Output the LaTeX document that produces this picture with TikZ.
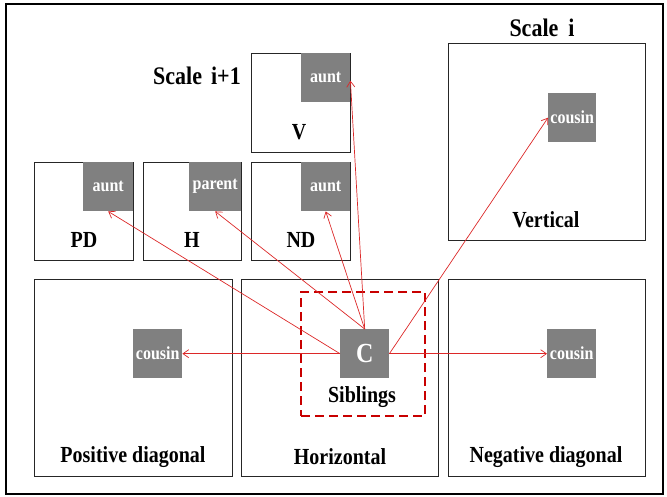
\documentclass[tikz,border=0pt]{standalone}
\usepackage{fontspec}
\usepackage{graphicx}
\setmainfont{Liberation Serif}
\usetikzlibrary{arrows.meta}
\definecolor{sq}{RGB}{128,128,128}
\definecolor{arr}{RGB}{220,40,40}
\definecolor{dash}{RGB}{200,0,0}
\newcommand\vstretch[1]{\scalebox{1}[1.15]{#1}}
\tikzset{
  box/.style={draw=black!85, line width=1.1pt, anchor=north west, inner sep=0pt},
  sqr/.style={fill=sq, draw=none, anchor=north west, inner sep=0pt, text=white,
     font=\fontsize{16}{16}\selectfont\bfseries},
  lbl/.style={font=\fontsize{20}{20}\selectfont\bfseries, inner sep=0pt},
  scl/.style={font=\fontsize{22}{22}\selectfont\bfseries, inner sep=0pt},
  link/.style={draw=arr, line width=0.7pt, -{Straight Barb[angle=70:7pt]}},
  sibbox/.style={draw=dash, line width=2.2pt, dash pattern=on 9pt off 5pt, anchor=north west, inner sep=0pt}
}
\begin{document}
\begin{tikzpicture}[x=1pt,y=-1pt]
\useasboundingbox (0,0) rectangle (667,496);
\node[draw=black, line width=1.5pt, anchor=north west, minimum width=657, minimum height=490, inner sep=0pt] (frame) at (5,3) {};
% big boxes
\node[box, minimum width=198, minimum height=197] (posd) at (34,279) {};
\node[box, minimum width=197, minimum height=197] (hor) at (241,279) {};
\node[box, minimum width=197, minimum height=197] (negd) at (448,279) {};
\node[box, minimum width=197, minimum height=197] (vert) at (448,43) {};
% small boxes
\node[box, minimum width=99, minimum height=99] (vbox) at (251,53) {};
\node[box, minimum width=99, minimum height=98] (pdbox) at (34,162) {};
\node[box, minimum width=98, minimum height=98] (hbox) at (143,162) {};
\node[box, minimum width=99, minimum height=98] (ndbox) at (251,162) {};
% dashed siblings box
\node[sibbox, minimum width=124, minimum height=124] (sib) at (300,291) {};
% gray squares
\node[sqr, minimum width=49, minimum height=49] (auntv) at (301,53) {\vstretch{aunt}};
\node[sqr, minimum width=50, minimum height=49] (auntpd) at (83,162) {\vstretch{aunt}};
\node[sqr, minimum width=52, minimum height=49] (parent) at (189,162) {\vstretch{parent}};
\node[sqr, minimum width=49, minimum height=49] (auntnd) at (301,162) {\vstretch{aunt}};
\node[sqr, minimum width=48, minimum height=49] (cousinv) at (548,93) {\vstretch{cousin}};
\node[sqr, minimum width=49, minimum height=49] (cousinl) at (133,329) {\vstretch{cousin}};
\node[sqr, minimum width=49, minimum height=49, font=\fontsize{24}{24}\selectfont\bfseries] (c) at (340,329) {\vstretch{C}};
\node[sqr, minimum width=49, minimum height=49] (cousinr) at (547,329) {\vstretch{cousin}};
% labels
\node[lbl] (lposd) at (133,457) {\vstretch{Positive diagonal}};
\node[lbl] (lhor) at (340,457) {\vstretch{Horizontal}};
\node[lbl] (lnegd) at (546,457) {\vstretch{Negative diagonal}};
\node[lbl] (lvert) at (546,220) {\vstretch{Vertical}};
\node[lbl] (lpd) at (84,240) {\vstretch{PD}};
\node[lbl] (lh) at (192,240) {\vstretch{H}};
\node[lbl] (lnd) at (301,240) {\vstretch{ND}};
\node[lbl] (lv) at (299,132) {\vstretch{V}};
\node[lbl] (lsib) at (362,397) {\vstretch{Siblings}};
\node[scl] (s1) at (197,76) {\vstretch{Scale\hspace{9pt}i+1}};
\node[scl] (s0) at (542,28) {\vstretch{Scale\hspace{10pt}i}};
% arrows
\draw[link] (c.west) -- (cousinl.east);
\draw[link] (c.east) -- (cousinr.west);
\draw[link] (c.east) -- (cousinv.west);
\draw[link] (c.west) -- (auntpd.south);
\draw[link] (c.north) -- (parent.south);
\draw[link] (c.north) -- (auntnd.south);
\draw[link] (c.north) -- ([yshift=-3pt]auntv.east);
\end{tikzpicture}
\end{document}
